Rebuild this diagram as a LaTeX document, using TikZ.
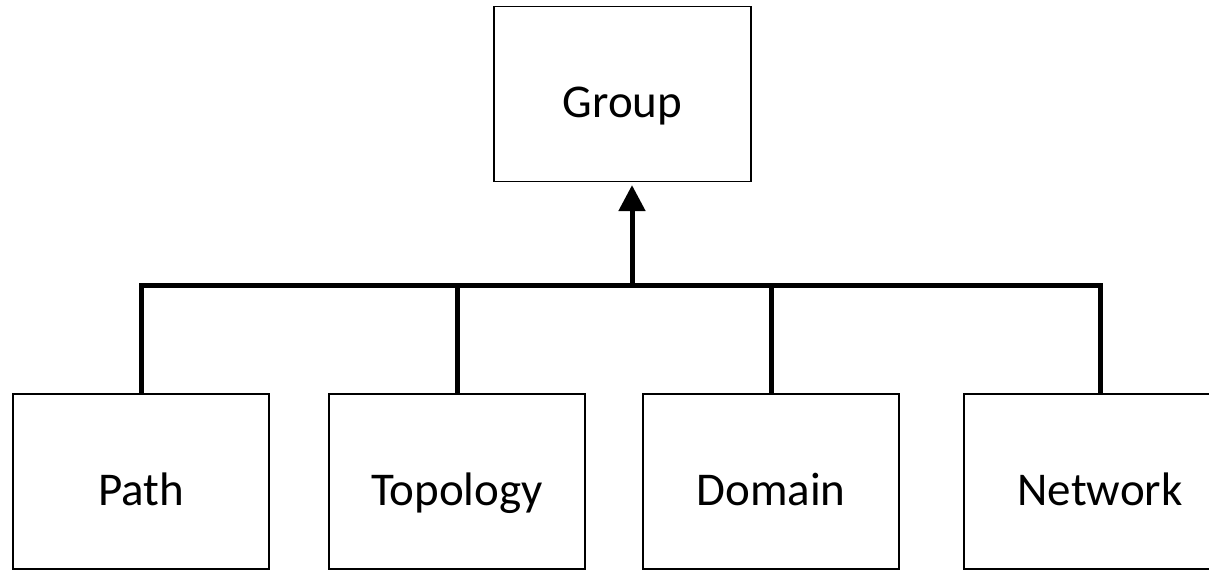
\documentclass[tikz,border=0pt]{standalone}
\usepackage{fontspec}
\setmainfont{Carlito}
\usepackage{tikz}
\usetikzlibrary{arrows.meta}

\tikzset{
	box/.style={draw, line width=1.2pt, minimum height=175pt, inner sep=0pt,
		font=\fontsize{47}{56}\selectfont, text height=47pt, text depth=0pt},
	bus/.style={line width=5pt},
}

\begin{document}
\begin{tikzpicture}[x=1pt, y=-1pt]
			\useasboundingbox (0,0) rectangle (1209,573);
			\node[box, minimum width=257pt] (group) at (622.5,94) {Group};
			\node[box, minimum width=256pt] (path) at (141,481.5) {Path};
			\node[box, minimum width=256pt] (topology) at (457,481.5) {Topology};
			\node[box, minimum width=256pt] (domain) at (771,481.5) {Domain};
			\node[box, minimum width=272pt] (network) at (1100,481.5) {Network};
			\coordinate (hub) at (632,285);
			\draw[bus] (path.north) |- (hub) -| (network.north);
			\path[bus]
			(topology.north) edge (topology.north |- hub)
			(domain.north) edge (domain.north |- hub);
			\draw[bus, -{Triangle[length=26pt, width=26pt]}, shorten >=3pt] (hub) -- (group.south -| hub);
		\end{tikzpicture}
\end{document}
